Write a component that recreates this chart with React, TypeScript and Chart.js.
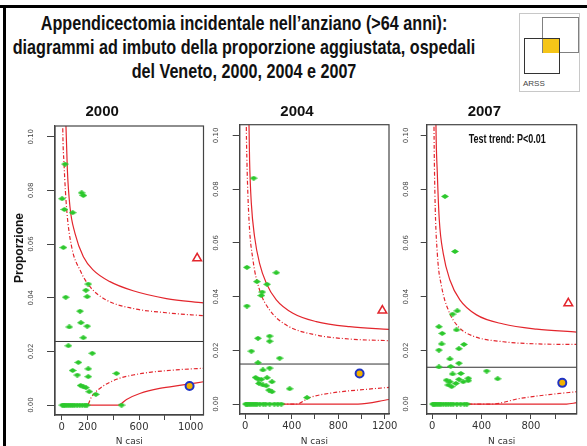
import React, { useEffect, useRef } from "react";
import { Chart, registerables } from "chart.js";

Chart.register(...registerables);

// ---------------- DATA ----------------
const yTicks = [0, 0.02, 0.04, 0.06, 0.08, 0.1];

// 2000
const xTicks2000 = [0, 200, 400, 600, 800, 1000];
const xTickLabels2000 = ["0", "200", "", "600", "", "1000"];
const hospN2000 = [26, 155, 168, 3, 21, 85, 13, 206, 188, 198, 31, 142, 149, 59, 198, 168, 52, 237, 129, 85, 206, 121, 206, 425, 147, 168, 188, 214, 265, 5, 15, 25, 40, 55, 70, 85, 100, 120, 140, 160, 180, 195, 464];
const hospP2000 = [0.0898, 0.0791, 0.0781, 0.0769, 0.0729, 0.0717, 0.0587, 0.0451, 0.0428, 0.0404, 0.0402, 0.035, 0.0307, 0.0291, 0.0294, 0.0251, 0.0221, 0.0193, 0.0159, 0.0129, 0.0135, 0.0112, 0.0106, 0.0118, 0.0073, 0.0068, 0.0065, 0.005, 0.004, 0, 0, 0, 0, 0, 0, 0, 0, 0, 0, 0, 0, 0, 0];
const mean2000 = 0.0237;
const up998N2000 = [26, 33, 44, 64, 103, 168, 245, 374, 554, 812, 1100];
const up998P2000 = [0.12, 0.104, 0.0876, 0.0739, 0.064, 0.0553, 0.0503, 0.046, 0.0426, 0.0397, 0.0381];
const up95N2000 = [5, 8, 18, 39, 77, 142, 219, 348, 554, 812, 1100];
const up95P2000 = [0.12, 0.104, 0.09, 0.0727, 0.059, 0.0503, 0.0441, 0.0391, 0.036, 0.0344, 0.0333];
const lo95N2000 = [0, 198, 232, 296, 425, 554, 683, 941, 1100];
const lo95P2000 = [0, 0, 0.0031, 0.0062, 0.0096, 0.0112, 0.0122, 0.0133, 0.0137];
const lo998N2000 = [0, 438, 503, 606, 760, 941, 1100];
const lo998P2000 = [0, 0, 0.0021, 0.0043, 0.0062, 0.0075, 0.0087];
const outlierN2000 = [1051];
const outlierP2000 = [0.0547];
const targetN2000 = [992];
const targetP2000 = [0.0071];

// 2004
const xTicks2004 = [0, 200, 400, 600, 800, 1000, 1200];
const xTickLabels2004 = ["0", "", "400", "", "800", "", "1200"];
const hospN2004 = [72, 14, 267, 100, 187, 146, 138, 14, 109, 210, 210, 52, 296, 109, 210, 152, 89, 109, 187, 138, 230, 118, 152, 181, 204, 230, 382, 531, 5, 15, 25, 40, 55, 70, 85, 100, 125, 155, 175, 210, 250, 280, 310];
const hospP2004 = [0.0841, 0.0509, 0.0489, 0.0456, 0.0446, 0.0417, 0.0404, 0.0365, 0.0245, 0.0253, 0.0234, 0.0197, 0.0171, 0.0154, 0.0134, 0.0127, 0.0099, 0.0093, 0.0098, 0.0092, 0.0083, 0.0077, 0.0071, 0.0068, 0.0052, 0.0046, 0.0057, 0.0024, 0, 0, 0, 0, 0, 0, 0, 0, 0, 0, 0, 0, 0, 0, 0];
const mean2004 = 0.0149;
const up998N2004 = [28, 32, 37, 52, 80, 123, 181, 267, 410, 611, 898, 1237];
const up998P2004 = [0.12, 0.104, 0.0909, 0.0748, 0.0623, 0.0524, 0.045, 0.0388, 0.0338, 0.0307, 0.0288, 0.0278];
const up95N2004 = [7, 9, 14, 32, 66, 123, 210, 353, 611, 898, 1237];
const up95P2004 = [0.12, 0.104, 0.0909, 0.0686, 0.0537, 0.0425, 0.035, 0.0294, 0.0257, 0.0242, 0.0236];
const lo95N2004 = [0, 439, 554, 755, 1042, 1237];
const lo95P2004 = [0, 0, 0.0024, 0.0042, 0.0055, 0.0062];
const lo998N2004 = [0, 970, 1237];
const lo998P2004 = [0, 0, 0.0017];
const outlierN2004 = [1180];
const outlierP2004 = [0.0348];
const targetN2004 = [984];
const targetP2004 = [0.0114];

// 2007
const xTicks2007 = [0, 200, 400, 600, 800, 1000];
const xTickLabels2007 = ["0", "", "400", "", "800", ""];
const hospN2007 = [103, 184, 203, 165, 54, 81, 197, 76, 54, 257, 216, 143, 216, 54, 149, 441, 530, 165, 232, 116, 216, 292, 251, 130, 157, 192, 292, 143, 5, 15, 25, 40, 55, 70, 90, 110, 130, 150, 170, 200, 230, 260, 280];
const hospP2007 = [0.0773, 0.0568, 0.0347, 0.0335, 0.0288, 0.0263, 0.0276, 0.0224, 0.0201, 0.0222, 0.0206, 0.0168, 0.0152, 0.0138, 0.014, 0.0123, 0.0094, 0.0112, 0.0114, 0.0089, 0.0092, 0.0096, 0.0083, 0.0071, 0.0065, 0.0077, 0.0087, 0.0083, 0, 0, 0, 0, 0, 0, 0, 0, 0, 0, 0, 0, 0, 0, 0];
const mean2007 = 0.0137;
const up998N2007 = [27, 30, 41, 57, 89, 143, 224, 359, 576, 846, 1171];
const up998P2007 = [0.12, 0.104, 0.086, 0.0686, 0.0561, 0.0462, 0.0388, 0.0332, 0.0298, 0.0279, 0.0268];
const up95N2007 = [12, 14, 22, 41, 76, 130, 211, 332, 576, 846, 1171];
const up95P2007 = [0.12, 0.104, 0.0773, 0.0561, 0.0437, 0.035, 0.0288, 0.0253, 0.0232, 0.0224, 0.0222];
const lo95N2007 = [0, 481, 711, 981, 1171];
const lo95P2007 = [0, 0, 0.0021, 0.0037, 0.0046];
const lo998N2007 = [0, 1089, 1171];
const lo998P2007 = [0, 0, 0.0005];
const outlierN2007 = [1103];
const outlierP2007 = [0.0375];
const targetN2007 = [1054];
const targetP2007 = [0.0079];

const titleLines = [
  "Appendicectomia incidentale nell’anziano (>64 anni):",
  "diagrammi ad imbuto della proporzione aggiustata, ospedali",
  "del Veneto, 2000, 2004 e 2007",
];
const yAxisTitle = "Proporzione";
const xAxisTitle = "N casi";
const trendNote = "Test trend: P<0.01";

// ---------------- STYLE ----------------
const SANS = '"Liberation Sans", Arial, Helvetica, sans-serif';
const DEJAVU = '"DejaVu Sans", sans-serif';
const RED = "#e3262d";
const GREEN = "#2cc82c";
const AXIS = "#444444";
const LINE_DASH = [4, 2, 1, 2];

type Panel = {
  year: string;
  left: number;
  width: number;
  yAxisWidth: number;
  padRight: number;
  titlePadBottom: number;
  xAxisHeight: number;
  yTickLen: number;
  yLabelPad: number;
  xMin: number;
  xMax: number;
  xTicks: number[];
  xTickLabels: string[];
  hospN: number[];
  hospP: number[];
  mean: number;
  up998N: number[];
  up998P: number[];
  up95N: number[];
  up95P: number[];
  lo95N: number[];
  lo95P: number[];
  lo998N: number[];
  lo998P: number[];
  outlierN: number[];
  outlierP: number[];
  targetN: number[];
  targetP: number[];
  note?: string;
};

const panels: Panel[] = [
  {
    year: "2000", left: 0, width: 210, yAxisWidth: 55, padRight: 5.7, titlePadBottom: 5, xAxisHeight: 31,
    yTickLen: 8, yLabelPad: 8.2, xMin: -52, xMax: 1100, xTicks: xTicks2000, xTickLabels: xTickLabels2000,
    hospN: hospN2000, hospP: hospP2000, mean: mean2000,
    up998N: up998N2000, up998P: up998P2000, up95N: up95N2000, up95P: up95P2000,
    lo95N: lo95N2000, lo95P: lo95P2000, lo998N: lo998N2000, lo998P: lo998P2000,
    outlierN: outlierN2000, outlierP: outlierP2000, targetN: targetN2000, targetP: targetP2000,
  },
  {
    year: "2004", left: 205, width: 196, yAxisWidth: 34.7, padRight: 12, titlePadBottom: 3.7, xAxisHeight: 32,
    yTickLen: 7, yLabelPad: 9, xMin: -48, xMax: 1237, xTicks: xTicks2004, xTickLabels: xTickLabels2004,
    hospN: hospN2004, hospP: hospP2004, mean: mean2004,
    up998N: up998N2004, up998P: up998P2004, up95N: up95N2004, up95P: up95P2004,
    lo95N: lo95N2004, lo95P: lo95P2004, lo998N: lo998N2004, lo998P: lo998P2004,
    outlierN: outlierN2004, outlierP: outlierP2004, targetN: targetN2004, targetP: targetP2004,
  },
  {
    year: "2007", left: 392, width: 195, yAxisWidth: 34.7, padRight: 10.3, titlePadBottom: 3.7, xAxisHeight: 32,
    yTickLen: 6, yLabelPad: 7, xMin: -45, xMax: 1171, xTicks: xTicks2007, xTickLabels: xTickLabels2007,
    hospN: hospN2007, hospP: hospP2007, mean: mean2007,
    up998N: up998N2007, up998P: up998P2007, up95N: up95N2007, up95P: up95P2007,
    lo95N: lo95N2007, lo95P: lo95P2007, lo998N: lo998N2007, lo998P: lo998P2007,
    outlierN: outlierN2007, outlierP: outlierP2007, targetN: targetN2007, targetP: targetP2007,
    note: trendNote,
  },
];

const toPts = (xs: number[], ys: number[]) => xs.map((x, i) => ({ x, y: ys[i] }));

function makeDiamond(): HTMLCanvasElement {
  const c = document.createElement("canvas");
  c.width = 8;
  c.height = 5;
  const g = c.getContext("2d")!;
  g.fillStyle = GREEN;
  g.beginPath();
  g.moveTo(0, 2.5);
  g.lineTo(4, 0);
  g.lineTo(8, 2.5);
  g.lineTo(4, 5);
  g.closePath();
  g.fill();
  return c;
}

const frameBoxPlugin = {
  id: "frameBox",
  afterDatasetsDraw(chart: any, _args: any, opts: any) {
    const { ctx, chartArea: a } = chart;
    ctx.save();
    ctx.strokeStyle = AXIS;
    ctx.lineWidth = 1.2;
    ctx.strokeRect(a.left, a.top, a.right - a.left, a.bottom - a.top);
    if (opts && opts.note) {
      ctx.translate((a.left + a.right) / 2 + 5.5, a.top + 14.5);
      ctx.scale(0.75, 1);
      ctx.fillStyle = "#111";
      ctx.font = `bold 12px ${SANS}`;
      ctx.textAlign = "center";
      ctx.textBaseline = "middle";
      ctx.fillText(opts.note, 0, 0);
    }
    ctx.restore();
  },
};

function FunnelPanel({ p }: { p: Panel }) {
  const ref = useRef<HTMLCanvasElement>(null);
  useEffect(() => {
    const canvas = ref.current!;
    const diamond = makeDiamond();
    const curve = (xs: number[], ys: number[], dashed: boolean) => ({
      data: toPts(xs, ys),
      showLine: true,
      borderColor: RED,
      borderWidth: 1.2,
      borderDash: dashed ? LINE_DASH : [],
      pointRadius: 0,
      cubicInterpolationMode: "monotone" as const,
      order: 3,
    });
    const chart = new Chart(canvas, {
      type: "scatter",
      data: {
        datasets: [
          {
            data: toPts(p.hospN, p.hospP),
            pointStyle: diamond as any,
            pointRadius: 3,
            order: 1,
          },
          {
            data: toPts(p.outlierN, p.outlierP),
            pointStyle: "triangle",
            pointRadius: 5,
            borderColor: RED,
            borderWidth: 1.5,
            backgroundColor: "rgba(255,255,255,0)",
            order: 0,
          },
          {
            data: toPts(p.targetN, p.targetP),
            pointStyle: "circle",
            pointRadius: 4,
            borderColor: "#1f33c4",
            borderWidth: 2,
            backgroundColor: "#f2b200",
            order: 0,
          },
          {
            data: [
              { x: p.xMin, y: p.mean },
              { x: p.xMax, y: p.mean },
            ],
            showLine: true,
            borderColor: "#333",
            borderWidth: 1,
            pointRadius: 0,
            order: 2,
          },
          curve(p.up998N, p.up998P, false),
          curve(p.up95N, p.up95P, true),
          curve(p.lo95N, p.lo95P, true),
          curve(p.lo998N, p.lo998P, false),
        ] as any,
      },
      options: {
        responsive: false,
        animation: false,
        events: [],
        layout: { padding: { left: 0, right: p.padRight, top: 0, bottom: 0 } },
        plugins: {
          legend: { display: false },
          tooltip: { enabled: false },
          title: {
            display: true,
            text: p.year,
            color: "#111",
            font: { family: SANS, size: 15, weight: "bold", lineHeight: 1.2 },
            padding: { top: 3, bottom: p.titlePadBottom },
          },
          frameBox: { note: p.note },
        } as any,
        scales: {
          x: {
            type: "linear",
            position: "bottom",
            min: p.xMin,
            max: p.xMax,
            afterBuildTicks: (sc: any) => {
              sc.ticks = p.xTicks.map((v) => ({ value: v }));
            },
            afterFit: (sc: any) => {
              sc.height = p.xAxisHeight;
            },
            ticks: {
              autoSkip: false,
              maxRotation: 0,
              minRotation: 0,
              padding: 1.5,
              color: "#333",
              font: { family: DEJAVU, size: 10 },
              callback: (_v: any, i: number) => p.xTickLabels[i] ?? "",
            },
            grid: { display: true, drawOnChartArea: false, drawTicks: true, tickLength: 5, color: AXIS, lineWidth: 1 },
            border: { display: true, color: AXIS, width: 1.2 },
            title: {
              display: true,
              text: xAxisTitle,
              color: "#333",
              font: { family: DEJAVU, size: 9, lineHeight: 1 },
              padding: 0,
            },
          },
          y: {
            type: "linear",
            position: "left",
            min: -0.0037,
            max: 0.104,
            afterBuildTicks: (sc: any) => {
              sc.ticks = yTicks.map((v) => ({ value: v }));
            },
            afterFit: (sc: any) => {
              sc.width = p.yAxisWidth;
            },
            ticks: {
              autoSkip: false,
              minRotation: 90,
              maxRotation: 90,
              crossAlign: "center",
              padding: p.yLabelPad,
              color: "#444",
              font: { family: DEJAVU, size: 7 },
              callback: (v: any) => Number(v).toFixed(2),
            },
            grid: { display: true, drawOnChartArea: false, drawTicks: true, tickLength: p.yTickLen, color: AXIS, lineWidth: 1 },
            border: { display: true, color: AXIS, width: 1.2 },
          },
        } as any,
      },
      plugins: [frameBoxPlugin as any],
    });
    return () => chart.destroy();
  }, [p]);
  return (
    <canvas
      ref={ref}
      width={p.width}
      height={346}
      style={{ position: "absolute", left: p.left, top: 100, width: p.width, height: 346 }}
    />
  );
}

function Logo() {
  return (
    <div style={{ position: "absolute", left: 519, top: 13, width: 61, height: 79, border: "1px solid #c8c8c8", boxSizing: "border-box", background: "#fff" }}>
      <div style={{ position: "absolute", left: 22, top: 3, width: 37, height: 36, border: "1px solid #808080", boxSizing: "border-box" }} />
      <div style={{ position: "absolute", left: 23, top: 24, width: 16, height: 15, background: "#f5c518" }} />
      <div style={{ position: "absolute", left: 4, top: 24, width: 36, height: 36, border: "1px solid #333", boxSizing: "border-box" }} />
      <div style={{ position: "absolute", left: 3, top: 65, fontFamily: SANS, fontSize: 8, lineHeight: "10px", color: "#444" }}>ARSS</div>
    </div>
  );
}

export default function App() {
  return (
    <div style={{ position: "fixed", left: 0, top: 0, width: 587, height: 446, background: "#fff", overflow: "hidden" }}>
      <div style={{ position: "absolute", left: 0, top: 5, width: 587, height: 3, background: "#000" }} />
      <div style={{ position: "absolute", left: 3, top: 5, width: 3, height: 441, background: "#000" }} />
      <div
        style={{
          position: "absolute",
          left: -156,
          top: 10.7,
          width: 800,
          textAlign: "center",
          fontFamily: SANS,
          fontWeight: "bold",
          fontSize: 21,
          lineHeight: "24px",
          color: "#111",
          whiteSpace: "nowrap",
          transform: "scaleX(0.77)",
          transformOrigin: "400px 0",
        }}
      >
        {titleLines.map((t) => (
          <div key={t}>{t}</div>
        ))}
      </div>
      <Logo />
      {panels.map((p) => (
        <FunnelPanel key={p.year} p={p} />
      ))}
      <div
        style={{
          position: "absolute",
          left: 18.5,
          top: 247.5,
          transform: "translate(-50%, -50%) rotate(-90deg)",
          fontFamily: SANS,
          fontWeight: "bold",
          fontSize: 12,
          lineHeight: "12px",
          color: "#111",
          whiteSpace: "nowrap",
        }}
      >
        {yAxisTitle}
      </div>
    </div>
  );
}
